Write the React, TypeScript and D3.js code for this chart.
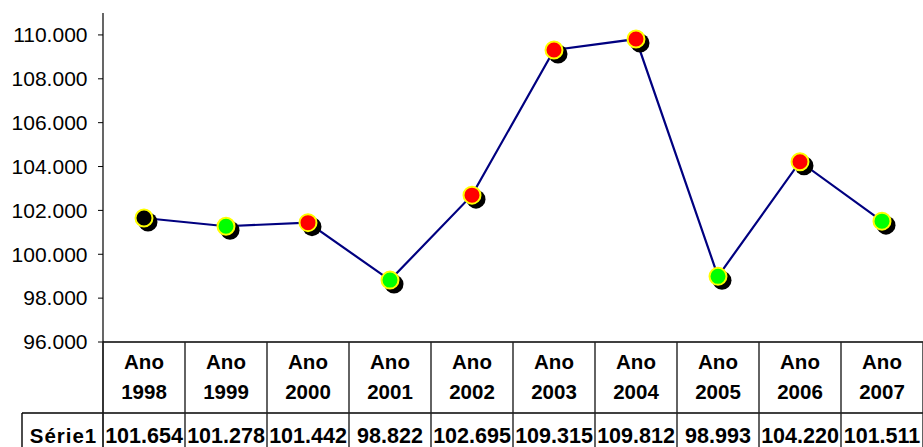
import React from "react";
import * as d3 from "d3";

const categories = ["1998", "1999", "2000", "2001", "2002", "2003", "2004", "2005", "2006", "2007"];
const values = [101654, 101278, 101442, 98822, 102695, 109315, 109812, 98993, 104220, 101511];
const markerColors = ["#000000", "#00FF00", "#FF0000", "#00FF00", "#FF0000", "#FF0000", "#FF0000", "#00FF00", "#FF0000", "#00FF00"];
const yTicks = [96000, 98000, 100000, 102000, 104000, 106000, 108000, 110000];
const seriesName = "Série1";
const catPrefix = "Ano";

const W = 923;
const H = 447;
const FONT = "'Liberation Sans', Arial, sans-serif";

export default function App() {
  const plotLeft = 103;
  const plotRight = 923;
  const plotTop = 13;
  const plotBottom = 342;
  const headerBottom = 413;
  const rowLeft = 22;

  const x = d3.scaleBand<string>().domain(categories).range([plotLeft, plotRight]);
  const y = d3.scaleLinear().domain([96000, 111000]).range([plotBottom, plotTop]);
  const loc = d3.formatLocale({ decimal: ",", thousands: ".", grouping: [3], currency: ["", ""] });
  const fmt = loc.format(",.0f");

  const cx = (c: string) => (x(c) as number) + x.bandwidth() / 2;
  const line = d3
    .line<number>()
    .x((_, i) => cx(categories[i]))
    .y((d) => y(d));

  const bounds = [...categories.map((c) => x(c) as number), plotRight];

  return (
    <svg
      width={W}
      height={H}
      style={{ position: "absolute", left: 0, top: 0, background: "#fff" }}
      fontFamily={FONT}
    >
      <rect x={0} y={0} width={W} height={H} fill="#fff" />
      {/* y axis */}
      <line x1={plotLeft} x2={plotLeft} y1={plotTop} y2={H} stroke="#000" strokeWidth={1.2} />
      {yTicks.map((t) => (
        <g key={t}>
          <line x1={plotLeft - 5} x2={plotLeft} y1={y(t)} y2={y(t)} stroke="#000" strokeWidth={1} />
          <text x={87.5} y={y(t)} dy="0.35em" textAnchor="end" fontSize={21} fill="#000">
            {fmt(t)}
          </text>
        </g>
      ))}
      {/* table */}
      <line x1={plotLeft} x2={plotRight} y1={plotBottom} y2={plotBottom} stroke="#000" strokeWidth={1.4} />
      <line x1={rowLeft} x2={plotRight} y1={headerBottom} y2={headerBottom} stroke="#000" strokeWidth={1.4} />
      <line x1={rowLeft} x2={rowLeft} y1={headerBottom} y2={H} stroke="#000" strokeWidth={1.4} />
      {bounds.map((b, i) => (
        <line key={i} x1={b} x2={b} y1={plotBottom} y2={H} stroke="#222" strokeWidth={1.4} />
      ))}
      {categories.map((c, i) => (
        <g key={c}>
          <text x={cx(c)} y={369} textAnchor="middle" fontSize={20.5} fontWeight="bold" fill="#000">
            {catPrefix}
          </text>
          <text x={cx(c)} y={398.5} textAnchor="middle" fontSize={20.5} fontWeight="bold" fill="#000">
            {c}
          </text>
          <text x={cx(c)} y={443} textAnchor="middle" fontSize={21.5} fontWeight="bold" fill="#000">
            {fmt(values[i])}
          </text>
        </g>
      ))}
      <text x={(rowLeft + plotLeft) / 2 + 1} y={443} textAnchor="middle" fontSize={20.5} fontWeight="bold" letterSpacing={1} fill="#000">
        {seriesName}
      </text>
      {/* line */}
      <path d={line(values) || ""} fill="none" stroke="#000080" strokeWidth={2.2} />
      {/* marker shadows */}
      {values.map((v, i) => (
        <circle key={"s" + i} cx={cx(categories[i]) + 4} cy={y(v) + 4} r={9.5} fill="#000" />
      ))}
      {values.map((v, i) => (
        <circle
          key={"m" + i}
          cx={cx(categories[i])}
          cy={y(v)}
          r={8.5}
          fill={markerColors[i]}
          stroke="#FFFF00"
          strokeWidth={2}
        />
      ))}
    </svg>
  );
}
